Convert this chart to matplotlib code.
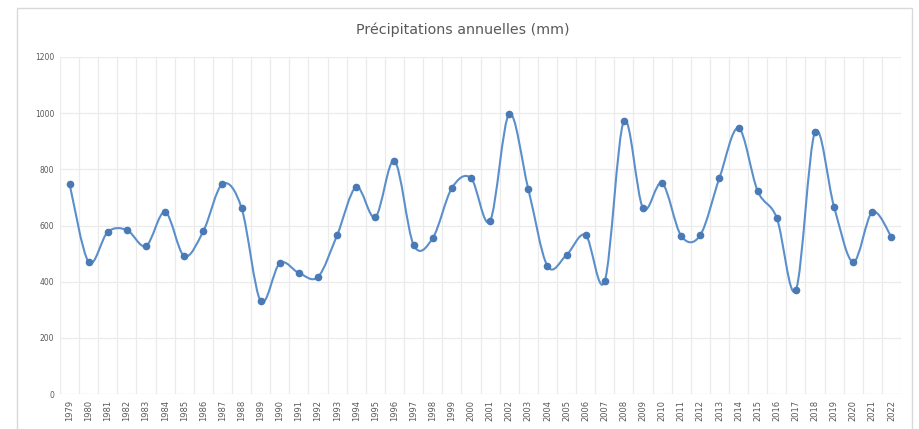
import matplotlib.pyplot as plt
import numpy as np
from matplotlib.path import Path
from matplotlib.patches import PathPatch, Rectangle

# precipitations annuelles (mm), 1979 -> 2022
years = list(range(1979, 2023))
precip = [748, 470, 577, 584, 527, 648, 491, 580, 748, 662,
          331, 466, 431, 417, 566, 737, 630, 830, 531, 555,
          733, 769, 616, 997, 730, 456, 495, 566, 402, 972,
          662, 751, 563, 566, 769, 947, 723, 627, 370, 933,
          666, 470, 648, 559]

title = "Précipitations annuelles (mm)"
yticks = [0, 200, 400, 600, 800, 1000, 1200]

line_col = '#5b8fcb'
mark_col = '#4a7ab5'
grid_col = '#ebebeb'
text_col = '#595959'


def smooth_path(x, y):
    # bezier segments through every point (excel-like smoothed line)
    x = np.asarray(x, float)
    y = np.asarray(y, float)
    n = len(x)
    verts = [(x[0], y[0])]
    codes = [Path.MOVETO]
    for i in range(n - 1):
        i0 = max(i - 1, 0)
        i3 = min(i + 2, n - 1)
        c1 = (x[i] + (x[i + 1] - x[i0]) / 6, y[i] + (y[i + 1] - y[i0]) / 6)
        c2 = (x[i + 1] - (x[i3] - x[i]) / 6, y[i + 1] - (y[i3] - y[i]) / 6)
        verts += [c1, c2, (x[i + 1], y[i + 1])]
        codes += [Path.CURVE4] * 3
    return Path(verts, codes)


fig = plt.figure(figsize=(9.19, 4.29), dpi=100)
fig.patch.set_facecolor('white')

# chart frame
fig.patches.append(Rectangle((17 / 919, -0.02), (912 - 17) / 919, 1 - 8 / 429 + 0.02,
                             transform=fig.transFigure, fill=False,
                             edgecolor='#d9d9d9', linewidth=1.0))

ax = fig.add_axes([60 / 919, 35 / 429, (901 - 60) / 919, (394 - 57) / 429])

xpos = np.arange(len(years))
ax.set_xlim(-0.5, len(years) - 0.5)
ax.set_ylim(0, 1200)

# grid: horizontal at value ticks, vertical between categories
for v in yticks[1:]:
    ax.axhline(v, color=grid_col, linewidth=0.9, zorder=0)
for b in np.arange(-0.5, len(years), 1.0):
    ax.axvline(b, color=grid_col, linewidth=0.9, zorder=0)
ax.axhline(0, color='#d9d9d9', linewidth=0.9, zorder=1)

ax.add_patch(PathPatch(smooth_path(xpos, precip), facecolor='none',
                       edgecolor=line_col, linewidth=1.5, zorder=3,
                       capstyle='round', joinstyle='round'))
ax.plot(xpos, precip, linestyle='none', marker='o', markersize=4.5,
        color=mark_col, markeredgecolor=mark_col, zorder=4)

ax.set_yticks(yticks)
ax.set_yticklabels([str(v) for v in yticks], fontsize=5.5, color=text_col)
ax.set_xticks(xpos)
ax.set_xticklabels([str(y) for y in years], rotation=90, fontsize=6, color=text_col)
ax.tick_params(length=0, pad=4)
for s in ax.spines.values():
    s.set_visible(False)

fig.text(0.504, 1 - 30 / 429, title, ha='center', va='center',
         fontsize=10.3, color=text_col)

fig.savefig('out.png', dpi=100, facecolor='white')
